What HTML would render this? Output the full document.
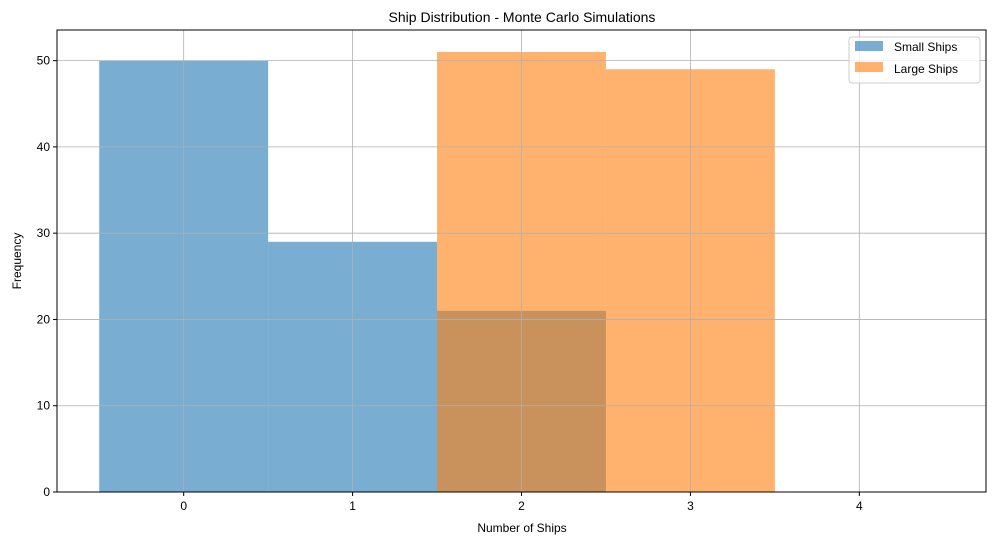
<!DOCTYPE html>
<html><head><meta charset="utf-8"><style>
body{margin:0;background:#fff;}
text{font-family:"Liberation Sans","DejaVu Sans",sans-serif;fill:#000;}
</style></head><body>
<svg id="chart" width="997" height="545" xmlns="http://www.w3.org/2000/svg">
<rect width="997" height="545" fill="#fff"/>
<text x="522" y="22" font-size="14" text-anchor="middle">Ship Distribution - Monte Carlo Simulations</text>
<g id="bars"></g>
<g id="grid"></g>
<rect x="57" y="30" width="929" height="462" fill="none" stroke="#000" stroke-width="1"/>
<g id="ticks"></g>
<text x="522" y="532" font-size="12" text-anchor="middle">Number of Ships</text>
<text transform="translate(21,261) rotate(-90)" font-size="12" text-anchor="middle">Frequency</text>
<g>
<rect x="849" y="37" width="131" height="46" rx="3" fill="#fff" fill-opacity="0.8" stroke="#ccc"/>
<rect x="855" y="41" width="28" height="10" fill="#1f77b4" fill-opacity="0.6"/>
<text x="894" y="51" font-size="12">Small Ships</text>
<rect x="855" y="62" width="28" height="10" fill="#ff7f0e" fill-opacity="0.6"/>
<text x="894" y="73" font-size="12">Large Ships</text>
</g>
</svg>
<script>
const categories=[0,1,2,3,4];
const smallShips=[50,29,21,0,0];
const largeShips=[0,0,51,49,0];
const xTicks=[0,1,2,3,4];
const yTicks=[0,10,20,30,40,50];
const NS="http://www.w3.org/2000/svg";
const L=57,R=986,T=30,B=492,xmin=-0.75,xmax=4.75,ymax=53.55;
const X=v=>L+(v-xmin)/(xmax-xmin)*(R-L);
const Y=v=>B-v/ymax*(B-T);
function mk(tag,attrs,parent){const e=document.createElementNS(NS,tag);for(const k in attrs)e.setAttribute(k,attrs[k]);document.getElementById(parent).appendChild(e);return e;}
[[smallShips,'#1f77b4','small'],[largeShips,'#ff7f0e','large']].forEach(([arr,col,nm])=>{
 arr.forEach((v,i)=>{if(!v)return;
  const r=mk('rect',{x:X(categories[i]-0.5),y:Y(v),width:X(categories[i]+0.5)-X(categories[i]-0.5),height:Y(0)-Y(v),fill:col,'fill-opacity':0.6},'bars');
  
  
 });
});
xTicks.forEach(t=>{
 const g=mk('line',{x1:X(t),x2:X(t),y1:T,y2:B,stroke:'#b0b0b0','stroke-width':0.8},'grid');
 
 
 mk('line',{x1:X(t),x2:X(t),y1:B,y2:B+4,stroke:'#000'},'ticks');
 const tx=mk('text',{x:X(t),y:B+18,'font-size':12,'text-anchor':'middle'},'ticks');
 tx.textContent=t;
 
 
});
yTicks.forEach(t=>{
 const g=mk('line',{x1:L,x2:R,y1:Y(t),y2:Y(t),stroke:'#b0b0b0','stroke-width':0.8},'grid');
 
 
 mk('line',{x1:L-4,x2:L,y1:Y(t),y2:Y(t),stroke:'#000'},'ticks');
 const tx=mk('text',{x:L-7,y:Y(t)+4,'font-size':12,'text-anchor':'end'},'ticks');
 tx.textContent=t;
 
 
});
</script>
</body></html>
